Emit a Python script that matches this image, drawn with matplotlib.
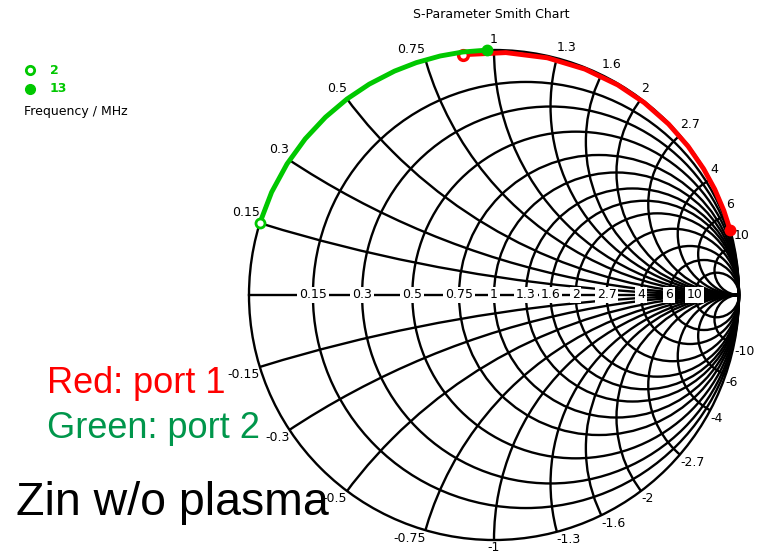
import numpy as np
import matplotlib.pyplot as plt
from matplotlib.patches import Circle

# Smith chart grid values (normalised resistance / reactance)
r_grid = [0.15, 0.3, 0.5, 0.75, 1, 1.3, 1.6, 2, 2.7, 4, 6, 10]
x_grid = [0.15, 0.3, 0.5, 0.75, 1, 1.3, 1.6, 2, 2.7, 4, 6, 10]
r_labels = ["0.15", "0.3", "0.5", "0.75", "1", "1.3", "1.6", "2", "2.7", "4", "6", "10"]
x_labels = ["0.15", "0.3", "0.5", "0.75", "1", "1.3", "1.6", "2", "2.7", "4", "6", "10"]

# Zin sweep, 2 .. 13 MHz (normalised)
freq_mhz = [2, 3, 4, 5, 6, 7, 8, 9, 10, 11, 12, 13]
port1_r = [0.01, 0.01, 0.01, 0.01, 0.01, 0.01, 0.01, 0.01, 0.01, 0.01, 0.01, 0.01]
port1_x = [0.88, 1.05, 1.25, 1.48, 1.75, 2.05, 2.45, 2.95, 3.6, 4.4, 5.6, 7.4]
port2_r = [0.0, 0.0, 0.0, 0.0, 0.0, 0.0, 0.0, 0.0, 0.0, 0.0, 0.0, 0.0]
port2_x = [0.15, 0.22, 0.29, 0.36, 0.43, 0.50, 0.57, 0.65, 0.72, 0.80, 0.88, 0.97]

W, H = 762, 555
CX, CY, RAD = 494, 295, 245   # chart centre / radius in pixels


def gamma(r, x):
    z = np.asarray(r, dtype=float) + 1j * np.asarray(x, dtype=float)
    g = (z - 1) / (z + 1)
    return g.real, g.imag


def px(x, y):
    # pixel position -> figure fraction
    return x / W, 1 - y / H


fig = plt.figure(figsize=(W / 100, H / 100), dpi=100)
ax = fig.add_axes([0, 0, 1, 1])
ax.set_xlim(-CX / RAD, (W - CX) / RAD)
ax.set_ylim(-(H - CY) / RAD, CY / RAD)
ax.set_aspect("equal")
ax.set_axis_off()

lw = 1.7
outer = Circle((0, 0), 1, fill=False, ec="black", lw=lw, zorder=2)
ax.add_patch(outer)
ax.plot([-1, 1], [0, 0], color="black", lw=lw, zorder=2)

for r in r_grid:
    ax.add_patch(Circle((r / (1 + r), 0), 1 / (1 + r), fill=False, ec="black", lw=lw, zorder=2))

for x in x_grid:
    for s in (1, -1):
        arc = Circle((1, s / x), 1 / x, fill=False, ec="black", lw=lw, zorder=2)
        ax.add_patch(arc)
        arc.set_clip_path(outer)

# resistance labels along the real axis
for r, lab in zip(r_grid, r_labels):
    ax.text((r - 1) / (r + 1), 0, lab, ha="center", va="center", fontsize=9, zorder=3,
            bbox=dict(boxstyle="square,pad=0.15", fc="white", ec="none"))

# reactance labels round the rim
for x, lab in zip(x_grid, x_labels):
    for s in (1, -1):
        gx, gy = gamma(0, s * x)
        if abs(gx) < 0.02:
            ha = "center"
        elif gx < 0:
            ha = "right"
        else:
            ha = "left"
        text = lab if s > 0 else "-" + lab
        ax.annotate(text, xy=(gx, gy), xytext=(0, 3 if s > 0 else -1),
                    textcoords="offset points", ha=ha,
                    va="bottom" if s > 0 else "top", fontsize=9, zorder=3)

# traces
red, green = "#ff0000", "#00c800"
g1x, g1y = gamma(port1_r, port1_x)
g2x, g2y = gamma(port2_r, port2_x)
ax.plot(g1x, g1y, color=red, lw=3.5, zorder=4)
ax.plot(g1x[0], g1y[0], "o", ms=7, mfc="white", mec=red, mew=2.5, zorder=4)
ax.plot(g1x[-1], g1y[-1], "o", ms=7.5, color=red, zorder=4)
ax.plot(g2x, g2y, color=green, lw=3.5, zorder=5)
ax.plot(g2x[0], g2y[0], "o", ms=6.5, mfc="white", mec=green, mew=2, zorder=5)
ax.plot(g2x[-1], g2y[-1], "o", ms=7.5, color=green, zorder=5)

# frequency key
ax.plot(*px(30, 70), "o", ms=6, mfc="white", mec=green, mew=2, transform=fig.transFigure, clip_on=False)
ax.plot(*px(30, 89), "o", ms=7, color=green, transform=fig.transFigure, clip_on=False)
fig.text(*px(50, 70), str(freq_mhz[0]), color=green, fontsize=9, weight="bold", va="center")
fig.text(*px(50, 89), str(freq_mhz[-1]), color=green, fontsize=9, weight="bold", va="center")
fig.text(*px(24, 112), "Frequency / MHz", fontsize=9, va="center")

fig.text(*px(491, 15), "S-Parameter Smith Chart", fontsize=9, ha="center", va="center")

big = ["Liberation Sans", "DejaVu Sans"]
fig.text(*px(47, 393), "Red: port 1", color="#ff0000", fontsize=26, family=big, zorder=10)
fig.text(*px(47, 438), "Green: port 2", color="#00964b", fontsize=26, family=big, zorder=10)
fig.text(*px(16, 515), "Zin w/o plasma", color="black", fontsize=33.5, family=big, zorder=10)

fig.savefig("out.png", dpi=100)
